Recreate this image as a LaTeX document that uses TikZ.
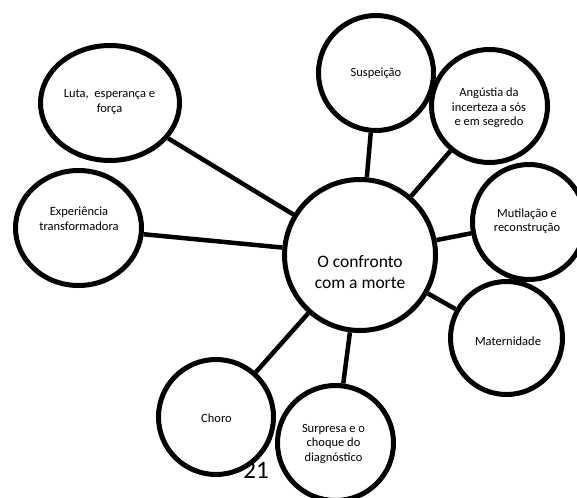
\documentclass[tikz,border=0pt]{standalone}
\usepackage{fontspec}
\setmainfont{Carlito}
\usetikzlibrary{shapes.geometric}
\tikzset{
  bubble/.style={ellipse, draw=black, line width=5pt, fill=white, inner sep=0pt},
  lbl/.style={align=center, font=\fontsize{12.5}{14.5}\selectfont, inner sep=0pt},
  biglbl/.style={align=center, font=\fontsize{17.5}{20.5}\selectfont, inner sep=0pt},
  link/.style={line width=4.5pt}
}
\begin{document}
\begin{tikzpicture}[x=1pt,y=-1pt]
\useasboundingbox (0,0) rectangle (577,497);
\clip (0,0) rectangle (577,497);
% bubbles
\node[bubble, minimum width=151pt, minimum height=151pt] (main) at (360,255) {};
\node[bubble, minimum width=139pt, minimum height=115pt] (luta) at (110,103) {};
\node[bubble, minimum width=126pt, minimum height=115pt] (exp) at (78.5,228) {};
\node[bubble, minimum width=115pt, minimum height=115pt] (susp) at (376,73) {};
\node[bubble, minimum width=116pt, minimum height=113pt] (ang) at (489.5,106) {};
\node[bubble, minimum width=113pt, minimum height=115pt] (mut) at (529,222) {};
\node[bubble, minimum width=112pt, minimum height=113pt] (mat) at (506.5,338) {};
\node[bubble, minimum width=115pt, minimum height=115pt] (choro) at (216,417) {};
\node[bubble, minimum width=116pt, minimum height=115pt] (surp) at (335.5,443) {};
% connectors
\draw[link] (luta) -- (main);
\draw[link] (exp) -- (main);
\draw[link] (susp) -- (main);
\draw[link] (ang) -- (main);
\draw[link] (mut) -- (main);
\draw[link] (mat) -- (main);
\draw[link] (choro) -- (main);
\draw[link] (surp) -- (main);
% texts
\node[biglbl] (tmain) at (360,272) {O confronto\\com a morte};
\node[lbl] (tluta) at (109.5,102) {Luta,\ \ esperança e\\força};
\node[lbl] (texp) at (79,218.5) {Experiência\\transformadora};
\node[lbl] (tsusp) at (376,73) {Suspeição};
\node[lbl] (tang) at (489,108) {Angústia da\\incerteza a sós\\e em segredo};
\node[lbl] (tmut) at (527,221) {Mutilação e\\reconstrução};
\node[lbl] (tmat) at (508,341) {Maternidade};
\node[lbl] (tchoro) at (216.5,418) {Choro};
\node[lbl] (tsurp) at (333.5,444) {Surpresa e o\\choque do\\diagnóstico};
\node[font=\fontsize{25}{30}\selectfont, inner sep=0pt, anchor=base] (pnum) at (256,478) {21};
\end{tikzpicture}
\end{document}
